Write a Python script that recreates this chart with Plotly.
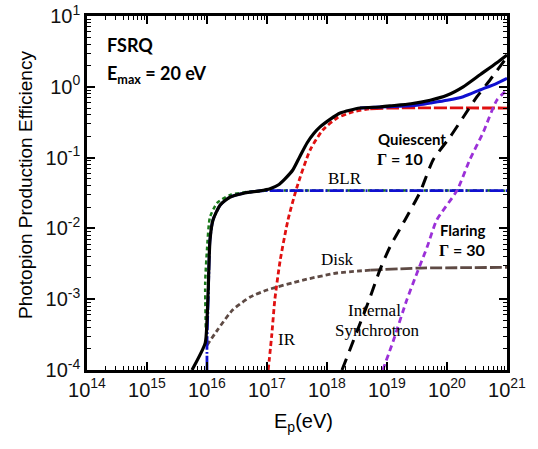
import plotly.graph_objects as go

# ---- data (log10 E_p [eV], log10 efficiency) ----
total_q_logE = [15.75, 15.97, 16.0, 16.02, 16.05, 16.1, 16.22, 16.38, 16.63, 16.88, 17.05, 17.2, 17.3, 17.43, 17.55, 17.67, 17.78, 17.88, 18.05, 18.22, 18.55, 18.88, 19.05, 19.4, 19.72, 20.0, 20.27, 20.55, 20.83, 21.0]
total_q_logY = [-4.0, -3.62, -3.3, -2.87, -2.16, -1.88, -1.67, -1.56, -1.5, -1.47, -1.44, -1.38, -1.3, -1.175, -0.98, -0.79, -0.66, -0.57, -0.46, -0.37, -0.30, -0.285, -0.27, -0.24, -0.19, -0.12, 0.0, 0.17, 0.34, 0.45]

total_f_logE = [18.55, 18.88, 19.2, 19.5, 19.72, 20.0, 20.27, 20.55, 20.83, 21.0]
total_f_logY = [-0.30, -0.285, -0.275, -0.26, -0.23, -0.19, -0.14, -0.045, 0.05, 0.12]

blr_logE = [16.0, 16.0, 16.02, 16.05, 16.1, 16.22, 16.38, 16.63, 16.88, 17.2, 21.0]
blr_logY = [-4.0, -3.6, -3.0, -2.16, -1.88, -1.67, -1.56, -1.5, -1.47, -1.467, -1.467]

blr2_logE = [15.98, 15.97, 16.0, 16.05, 16.17, 16.38, 16.72, 17.0, 21.0]
blr2_logY = [-3.4, -2.77, -2.3, -1.84, -1.64, -1.53, -1.48, -1.467, -1.467]

ir_logE = [17.02, 17.08, 17.13, 17.22, 17.35, 17.5, 17.72, 17.93, 18.17, 18.43, 18.72, 19.1, 21.0]
ir_logY = [-4.0, -3.5, -3.01, -2.45, -1.88, -1.415, -0.89, -0.61, -0.44, -0.355, -0.31, -0.30, -0.30]

disk_logE = [16.0, 16.17, 16.43, 16.72, 17.0, 17.6, 18.17, 18.72, 19.55, 20.3, 21.0]
disk_logY = [-3.65, -3.44, -3.15, -2.97, -2.87, -2.73, -2.63, -2.59, -2.56, -2.555, -2.55]

syn_q_logE = [18.25, 18.72, 18.88, 19.05, 19.3, 19.55, 19.77, 20.05, 20.27, 20.5, 20.72, 21.0]
syn_q_logY = [-4.0, -2.97, -2.59, -2.26, -1.88, -1.49, -1.03, -0.71, -0.43, -0.14, 0.10, 0.42]

syn_f_logE = [18.93, 19.1, 19.33, 19.5, 19.67, 19.83, 20.17, 20.38, 20.6, 20.83, 21.0]
syn_f_logY = [-4.0, -3.6, -3.01, -2.63, -2.26, -1.88, -1.46, -1.03, -0.65, -0.19, -0.045]

x_ticks = [14, 15, 16, 17, 18, 19, 20, 21]
y_ticks = [-4, -3, -2, -1, 0, 1]


def p(v):
    return [10.0 ** a for a in v]


fig = go.Figure()

def add(xs, ys, color, width, dash):
    fig.add_trace(go.Scatter(x=p(xs), y=p(ys), mode="lines",
                             line=dict(color=color, width=width, dash=dash, shape="spline", smoothing=0.6),
                             showlegend=False, hoverinfo="skip"))

def add_split(xs, ys, k, color, width, dash1, dash2):
    # same series, drawn with a finer dash before index k and a longer dash after it
    add(xs[:k + 1], ys[:k + 1], color, width, dash1)
    add(xs[k:], ys[k:], color, width, dash2)

add_split(disk_logE, disk_logY, 7, "#5e4a44", 2.8, "5px,3px", "12px,3px")
add_split(ir_logE, ir_logY, 10, "#e01010", 2.8, "5px,3px", "13px,3px")
add(blr2_logE, blr2_logY, "#1a7a1a", 2.5, "4px,3px")
add(blr_logE, blr_logY, "#1010d0", 2.8, "14px,2px,2px,2px")
add(syn_f_logE, syn_f_logY, "#9b30d8", 2.8, "6px,4px")
add(syn_q_logE, syn_q_logY, "#000000", 3.0, "12px,8px")
add(total_f_logE, total_f_logY, "#1010d0", 3.0, "solid")
add(total_q_logE, total_q_logY, "#000000", 3.2, "solid")

minor_x = [m * 10.0 ** e for e in range(14, 21) for m in range(2, 10)]
minor_y = [m * 10.0 ** e for e in range(-4, 1) for m in range(2, 10)]

tick_font = dict(family="Liberation Sans, Arial", size=20, color="#111")
common = dict(showgrid=False, zeroline=False, automargin=False, ticklabeloverflow="allow",
              showline=True, linecolor="black", linewidth=2.5, mirror="ticks",
              ticks="inside", ticklen=8, tickwidth=1.5, tickcolor="black", tickfont=tick_font)
fig.update_xaxes(type="log", range=[14, 21],
                 tickvals=p(x_ticks), ticktext=["10<sup>%d</sup>" % t for t in x_ticks],
                 minor=dict(tickvals=minor_x, ticks="inside", ticklen=4, tickwidth=1, tickcolor="black"),
                 **common)
fig.update_yaxes(type="log", range=[-4, 1],
                 tickvals=p(y_ticks), ticktext=["10<sup>%d</sup>" % t for t in y_ticks],
                 minor=dict(tickvals=minor_y, ticks="inside", ticklen=4, tickwidth=1, tickcolor="black"),
                 **common)

# plot area on the screen (pixels); the page margin is removed in post_script
X0, X1, Y0, Y1 = 87, 507, 16, 370
W, H = 538, 449
L, T = X0, Y0
R, B = W - X1, H - Y1
pw, ph = X1 - X0, Y1 - Y0

def px(x, y, text, size, family, bold=False, xanchor="center", color="black", angle=0):
    if bold:
        text = "<b>%s</b>" % text
    fig.add_annotation(x=(x - X0) / pw, y=(Y1 - y) / ph, xref="paper", yref="paper",
                       text=text, showarrow=False, xanchor=xanchor, yanchor="middle",
                       textangle=angle,
                       font=dict(family=family, size=size, color=color))

sans = "Lato, Open Sans, sans-serif"
serif = "Liberation Serif, Times New Roman, serif"
gam = "<span style='font-family:Liberation Serif'>Γ</span>"
px(105, 45, "FSRQ", 18, sans, True, "left")
px(105, 75, "E<sub>max</sub> = 20 eV", 18, sans, True, "left")
px(345, 178, "BLR", 17, serif)
px(412, 139, "Quiescent", 15, sans, True)
px(400, 158, gam + " = 10", 16, sans, True)
px(463, 230, "Flaring", 15, sans, True)
px(462, 249, gam + " = 30", 16, sans, True)
px(337, 259, "Disk", 17, serif)
px(374, 310, "Internal", 17, serif)
px(377, 330, "Synchrotron", 17, serif)
px(287, 339, "IR", 17, serif)

# axis titles
px(25, 185, "Photopion Production Efficiency", 19, "Liberation Sans, Arial", angle=-90)
px(303, 423, "E<sub>p</sub>(eV)", 20, "Liberation Sans, Arial")

fig.update_layout(width=W, height=H, margin=dict(l=L, r=R, t=T, b=B, autoexpand=False),
                  paper_bgcolor="white", plot_bgcolor="white")

fig.write_html("out.html", config={"displayModeBar": False},
               post_script="document.body.style.margin='0px';document.body.style.padding='0px';")
